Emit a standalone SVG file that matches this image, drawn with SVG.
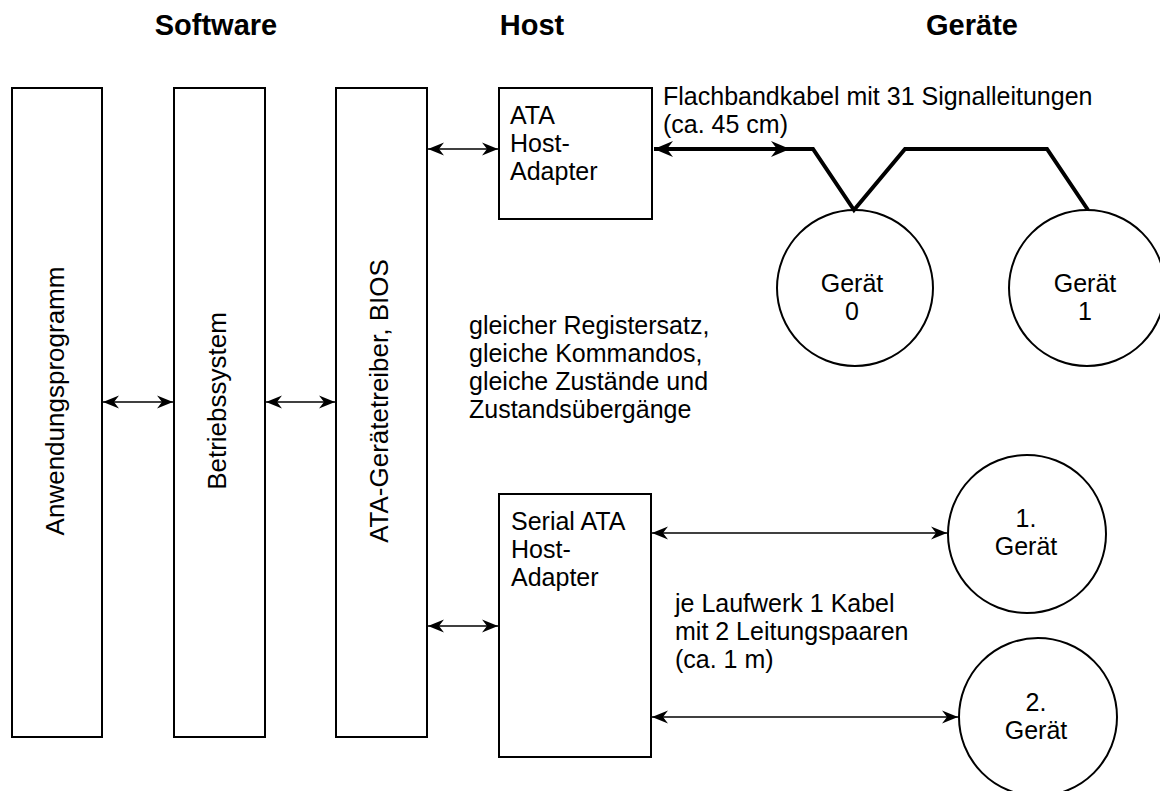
<svg xmlns="http://www.w3.org/2000/svg" width="1160" height="791" viewBox="0 0 1160 791">
<style>
text{font-family:"Liberation Sans",Arial,Helvetica,sans-serif;font-size:25px;fill:#000}
.h{font-weight:bold;font-size:29px;text-anchor:middle}
.v{font-size:26px;text-anchor:middle}
.c{text-anchor:middle}
.box{fill:#fff;stroke:#000;stroke-width:2}
.thin{fill:none;stroke:#000;stroke-width:1.5}
.thick{fill:none;stroke:#000;stroke-width:4;stroke-linejoin:miter}
</style>
<defs>
<marker id="ah" viewBox="-17 -7 18 14" refX="0" refY="0" markerWidth="18" markerHeight="14" markerUnits="userSpaceOnUse" orient="auto-start-reverse">
<path d="M0,0 L-16,-6.5 L-11,0 L-16,6.5 Z" fill="#000"/>
</marker>
<marker id="ahb" viewBox="-20 -9 21 18" refX="0" refY="0" markerWidth="21" markerHeight="18" markerUnits="userSpaceOnUse" orient="auto-start-reverse">
<path d="M0,0 L-19,-8 L-13,0 L-19,8 Z" fill="#000"/>
</marker>
</defs>
<rect width="1160" height="791" fill="#fff"/>
<g id="headers">
<text class="h" x="216" y="35">Software</text>
<text class="h" x="532" y="35">Host</text>
<text class="h" x="972" y="35">Geräte</text>
</g>
<g id="anwendungsprogramm">
<rect class="box" x="12" y="88" width="90" height="649"/>
<text class="v" transform="translate(64,401) rotate(-90)">Anwendungsprogramm</text>
</g>
<g id="betriebssystem">
<rect class="box" x="174" y="88" width="91" height="649"/>
<text class="v" transform="translate(226,401) rotate(-90)">Betriebssystem</text>
</g>
<g id="treiber">
<rect class="box" x="336" y="88" width="91" height="649"/>
<text class="v" transform="translate(388,401) rotate(-90)">ATA-Gerätetreiber, BIOS</text>
</g>
<g id="ata-adapter">
<rect class="box" x="499" y="88" width="153" height="131"/>
<text x="510" y="124">ATA</text>
<text x="510" y="152">Host-</text>
<text x="510" y="180">Adapter</text>
</g>
<g id="sata-adapter">
<rect class="box" x="499" y="494" width="152" height="263"/>
<text x="511" y="530">Serial ATA</text>
<text x="511" y="558">Host-</text>
<text x="511" y="586">Adapter</text>
</g>
<g id="geraet0">
<circle class="box" cx="855" cy="288" r="78"/>
<text class="c" x="852" y="292">Gerät</text>
<text class="c" x="852" y="320">0</text>
</g>
<g id="geraet1">
<circle class="box" cx="1087" cy="288" r="78"/>
<text class="c" x="1085" y="292">Gerät</text>
<text class="c" x="1085" y="320">1</text>
</g>
<g id="sata-geraet1">
<circle class="box" cx="1027" cy="534" r="79"/>
<text class="c" x="1026" y="527">1.</text>
<text class="c" x="1026" y="555">Gerät</text>
</g>
<g id="sata-geraet2">
<circle class="box" cx="1038" cy="717" r="79"/>
<text class="c" x="1036" y="711">2.</text>
<text class="c" x="1036" y="739">Gerät</text>
</g>
<g id="connectors">
<line class="thin" x1="103" y1="402" x2="173" y2="402" marker-start="url(#ah)" marker-end="url(#ah)"/>
<line class="thin" x1="266" y1="402" x2="335" y2="402" marker-start="url(#ah)" marker-end="url(#ah)"/>
<line class="thin" x1="428" y1="149" x2="498" y2="149" marker-start="url(#ah)" marker-end="url(#ah)"/>
<line class="thin" x1="428" y1="626" x2="498" y2="626" marker-start="url(#ah)" marker-end="url(#ah)"/>
<line class="thin" x1="652" y1="533" x2="947" y2="533" marker-start="url(#ah)" marker-end="url(#ah)"/>
<line class="thin" x1="652" y1="717" x2="958" y2="717" marker-start="url(#ah)" marker-end="url(#ah)"/>
<line class="thick" x1="654" y1="149" x2="790" y2="149" marker-start="url(#ahb)" marker-end="url(#ahb)"/>
<polyline class="thick" points="786,149 813,149 854,210 905,149 1047,149 1088,210"/>
</g>
<g id="labels">
<text x="663" y="105">Flachbandkabel mit 31 Signalleitungen</text>
<text x="663" y="133">(ca. 45 cm)</text>
<text x="469" y="334">gleicher Registersatz,</text>
<text x="469" y="362">gleiche Kommandos,</text>
<text x="469" y="390">gleiche Zustände und</text>
<text x="469" y="418">Zustandsübergänge</text>
<text x="675" y="612">je Laufwerk 1 Kabel</text>
<text x="675" y="640">mit 2 Leitungspaaren</text>
<text x="675" y="668">(ca. 1 m)</text>
</g>
</svg>
